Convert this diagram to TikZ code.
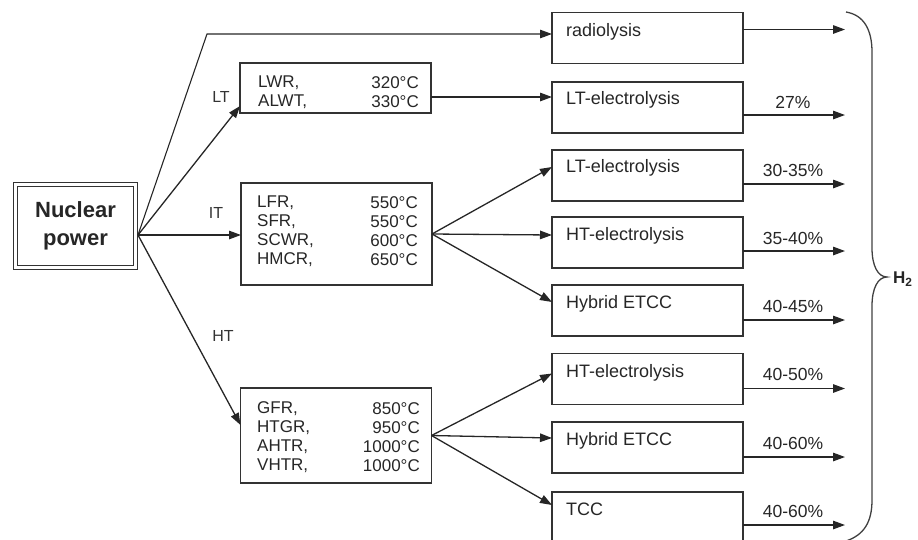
\documentclass[tikz,border=0pt]{standalone}
\usepackage{fontspec}
\setmainfont{Liberation Sans}
\usetikzlibrary{arrows.meta,calc}
\begin{document}
\begin{tikzpicture}[x=1pt,y=-1pt,
  box/.style={draw=black!80,line width=1.6pt,minimum width=191pt,minimum height=51pt,inner sep=0pt,outer sep=0pt},
  conn/.style={draw=black!85,line width=1.3pt,-{Triangle[length=12pt,width=8.5pt]}},
  txt/.style={font=\fontsize{18}{20}\selectfont,text=black!85,anchor=west,inner sep=0pt},
  rname/.style={font=\fontsize{17}{19}\selectfont,text=black!85,anchor=west,inner sep=0pt},
  rtemp/.style={font=\fontsize{17}{19}\selectfont,text=black!85,anchor=east,inner sep=0pt},
  pct/.style={font=\fontsize{17.5}{19}\selectfont,text=black!85,inner sep=0pt},
  lvl/.style={font=\fontsize{16}{18}\selectfont,text=black!80,inner sep=0pt}]

\useasboundingbox (0,0) rectangle (918,539);

% source
\node[draw=black!80,line width=1.5pt,double,double distance=2.5pt,minimum width=120pt,minimum height=83pt,inner sep=0pt,
      font=\bfseries\fontsize{22}{28}\selectfont,align=center,text=black!85] (nuc) at (75.5,226) {Nuclear\\power};
\coordinate (src) at (138,235);

% reactor boxes
\node[box,minimum height=50pt] (lt) at (335.5,88) {};
\node[box,minimum height=102pt] (it) at (336.5,234) {};
\node[box,minimum height=95pt] (ht) at (336,435.5) {};

\node[rname] (n1) at (258,83) {LWR,};
\node[rname] (n2) at (258,102) {ALWT,};
\node[rtemp] (t1) at (419,83) {320°C};
\node[rtemp] (t2) at (419,102) {330°C};

\node[rname] (n3) at (257,203) {LFR,};
\node[rname] (n4) at (257,222) {SFR,};
\node[rname] (n5) at (257,241) {SCWR,};
\node[rname] (n6) at (257,260) {HMCR,};
\node[rtemp] (t3) at (418,203) {550°C};
\node[rtemp] (t4) at (418,222) {550°C};
\node[rtemp] (t5) at (418,241) {600°C};
\node[rtemp] (t6) at (418,260) {650°C};

\node[rname] (n7) at (257,409) {GFR,};
\node[rname] (n8) at (257,428) {HTGR,};
\node[rname] (n9) at (257,447) {AHTR,};
\node[rname] (n10) at (257,466) {VHTR,};
\node[rtemp] (t7) at (420,409) {850°C};
\node[rtemp] (t8) at (420,428) {950°C};
\node[rtemp] (t9) at (420,447) {1000°C};
\node[rtemp] (t10) at (420,466) {1000°C};

% level labels
\node[lvl] (llt) at (221,97) {LT};
\node[lvl] (lit) at (216,213) {IT};
\node[lvl] (lht) at (223,336) {HT};

% process boxes
\node[box] (rad)  at (647.5,38) {};
\node[box] (lte1) at (647.5,107.5) {};
\node[box] (lte2) at (647.5,175.5) {};
\node[box] (hte1) at (647.5,242.5) {};
\node[box] (hyb1) at (647.5,310.5) {};
\node[box] (hte2) at (647.5,379) {};
\node[box] (hyb2) at (647.5,447.5) {};
\node[box,minimum height=54pt] (tcc) at (647.5,519) {};

\node[txt] (x1) at (566,32) {radiolysis};
\node[txt] (x2) at (566,100) {LT-electrolysis};
\node[txt] (x3) at (566,168) {LT-electrolysis};
\node[txt] (x4) at (566,236) {HT-electrolysis};
\node[txt] (x5) at (566,304) {Hybrid ETCC};
\node[txt] (x6) at (566,373) {HT-electrolysis};
\node[txt] (x7) at (566,441) {Hybrid ETCC};
\node[txt] (x8) at (566,509) {TCC};

% connectors from source
\coordinate (rk) at (207,34);
\draw[conn,line width=1.1pt] (src) -- (rk) -- (rk -| rad.west);
\draw[conn] (src) -- ($(lt.south west)+(0,-7)$);
\draw[conn] (src) -- (src -| it.west);
\draw[conn] (src) -- ($(ht.north west)+(0,37)$);

% reactor to processes
\coordinate (a1) at ($(lt.north east)+(0,34)$);
\draw[conn] (a1) -- (a1 -| lte1.west);
\draw[conn] (it.east) -- ($(lte2.north west)+(0,17)$);
\draw[conn] (it.east) -- ($(hte1.north west)+(0,18)$);
\draw[conn] (it.east) -- ($(hyb1.north west)+(0,17)$);
\draw[conn] (ht.east) -- ($(hte2.north west)+(0,20)$);
\draw[conn] (ht.east) -- ($(hyb2.north west)+(0,16)$);
\draw[conn] (ht.east) -- ($(tcc.north west)+(0,13)$);

% outputs
\draw[conn] ($(rad.north east)+(0,17)$) -- +(102,0);
\draw[conn] ($(lte1.north east)+(0,33)$) -- +(102,0);
\draw[conn] ($(lte2.north east)+(0,34)$) -- +(102,0);
\draw[conn] ($(hte1.north east)+(0,34)$) -- +(102,0);
\draw[conn] ($(hyb1.north east)+(0,35)$) -- +(102,0);
\draw[conn] ($(hte2.north east)+(0,35)$) -- +(102,0);
\draw[conn] ($(hyb2.north east)+(0,35)$) -- +(102,0);
\draw[conn] ($(tcc.north east)+(0,33)$) -- +(102,0);

\node[pct] (p1) at (793,102) {27\%};
\node[pct] (p2) at (793,170) {30-35\%};
\node[pct] (p3) at (793,238) {35-40\%};
\node[pct] (p4) at (793,306) {40-45\%};
\node[pct] (p5) at (793,374) {40-50\%};
\node[pct] (p6) at (793,443) {40-60\%};
\node[pct] (p7) at (793,511) {40-60\%};

% brace
\draw[black!75,line width=1.3pt] (846,12) .. controls (864,15) and (872,30) .. (872,52) -- (872,248)
  .. controls (872,266) and (878,277) .. (887,277)
  .. controls (878,277) and (872,288) .. (872,306) -- (872,500)
  .. controls (872,522) and (864,535) .. (846,541);
\node[font=\bfseries\fontsize{17}{19}\selectfont,text=black!85,anchor=west,inner sep=0pt] (h2) at (893,279) {H\textsubscript{2}};

\end{tikzpicture}
\end{document}
